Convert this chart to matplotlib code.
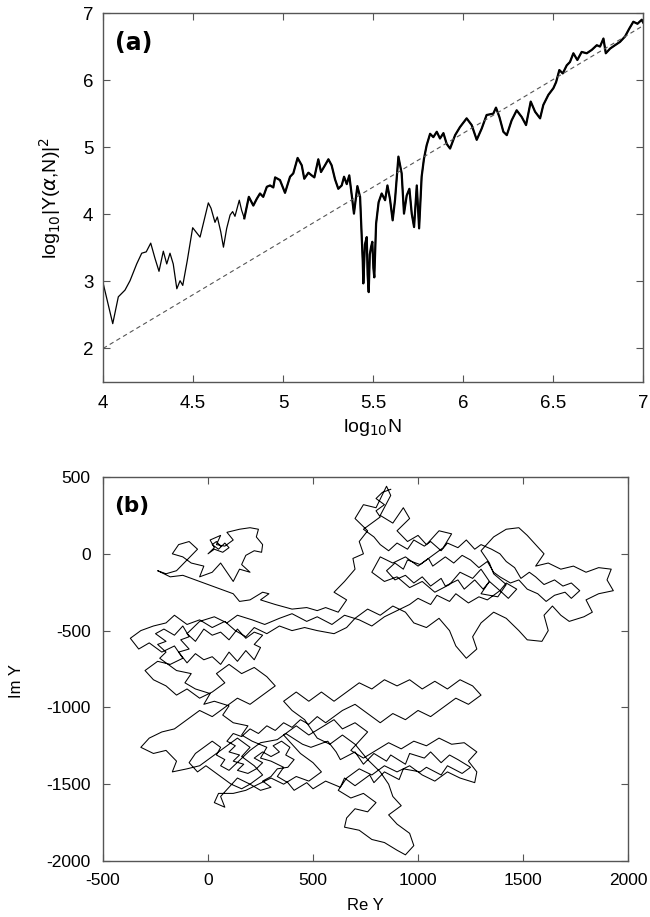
import matplotlib.pyplot as plt

plt.rcParams['font.family'] = ['Liberation Sans', 'DejaVu Sans']
plt.rcParams['axes.unicode_minus'] = False

# (a) log10|Y(alpha,N)|^2 against log10 N
log_n = [4.0, 4.054, 4.085, 4.122, 4.15, 4.187, 4.215, 4.24, 4.265, 4.289, 4.311, 4.335,
         4.354, 4.372, 4.39, 4.41, 4.428, 4.443, 4.468, 4.498, 4.539, 4.585, 4.6, 4.622,
         4.635, 4.654, 4.669, 4.687, 4.706, 4.72, 4.733, 4.757, 4.77, 4.785, 4.81, 4.835,
         4.854, 4.872, 4.89, 4.91, 4.928, 4.946, 4.956, 4.983, 5.011, 5.039, 5.057, 5.081,
         5.104, 5.118, 5.141, 5.159, 5.174, 5.196, 5.211, 5.233, 5.252, 5.27, 5.289, 5.307,
         5.326, 5.339, 5.354, 5.368, 5.382, 5.394, 5.413, 5.428, 5.443, 5.446, 5.455, 5.465,
         5.47, 5.476, 5.482, 5.489, 5.496, 5.502, 5.507, 5.517, 5.531, 5.548, 5.567, 5.58,
         5.594, 5.609, 5.622, 5.641, 5.659, 5.672, 5.687, 5.702, 5.715, 5.728, 5.743, 5.756,
         5.77, 5.783, 5.798, 5.817, 5.835, 5.854, 5.872, 5.891, 5.909, 5.928, 5.956, 5.983,
         6.02, 6.048, 6.076, 6.104, 6.131, 6.168, 6.183, 6.202, 6.224, 6.243, 6.27, 6.298,
         6.326, 6.35, 6.376, 6.4, 6.428, 6.446, 6.474, 6.502, 6.517, 6.535, 6.554, 6.576,
         6.594, 6.613, 6.635, 6.659, 6.687, 6.715, 6.743, 6.761, 6.78, 6.793, 6.817, 6.844,
         6.872, 6.9, 6.924, 6.946, 6.969, 6.993, 7.0]
log_y2 = [2.98, 2.37, 2.77, 2.87, 3.01, 3.26, 3.42, 3.44, 3.57, 3.34, 3.15, 3.45,
          3.26, 3.42, 3.26, 2.89, 3.01, 2.94, 3.31, 3.80, 3.66, 4.17, 4.09, 3.88,
          3.96, 3.74, 3.51, 3.79, 3.99, 4.04, 3.97, 4.21, 4.06, 3.94, 4.26, 4.13,
          4.23, 4.31, 4.26, 4.41, 4.43, 4.40, 4.55, 4.51, 4.32, 4.56, 4.61, 4.84,
          4.73, 4.53, 4.62, 4.58, 4.55, 4.82, 4.63, 4.73, 4.82, 4.73, 4.52, 4.38,
          4.43, 4.56, 4.45, 4.58, 4.28, 4.01, 4.42, 4.26, 3.29, 2.97, 3.55, 3.66,
          3.10, 2.84, 3.40, 3.51, 3.59, 3.20, 3.06, 3.86, 4.18, 4.31, 4.21, 4.43,
          4.23, 3.91, 4.21, 4.86, 4.61, 4.01, 4.28, 4.38, 4.01, 3.81, 4.43, 3.79,
          4.56, 4.83, 5.03, 5.20, 5.15, 5.23, 5.13, 5.21, 5.05, 4.98, 5.18, 5.30,
          5.43, 5.33, 5.11, 5.28, 5.48, 5.50, 5.59, 5.45, 5.23, 5.18, 5.40, 5.55,
          5.45, 5.33, 5.68, 5.53, 5.43, 5.63, 5.78, 5.88, 5.97, 6.15, 6.10, 6.22,
          6.27, 6.40, 6.30, 6.42, 6.40, 6.45, 6.52, 6.50, 6.62, 6.40, 6.47, 6.52,
          6.57, 6.65, 6.77, 6.87, 6.84, 6.90, 6.86]

# dashed reference line
fit_n = [4.0, 7.0]
fit_y = [2.0, 6.81]

# (b) trajectory of Y in the complex plane (hand trace), first long stretch
re_y = [60, 40, 20, 50, 80, 100, 70, 30,
        0, 30, 10, 60, 40, 80, 120, 90, 150, 200, 240, 230, 260, 255, 220, 180, 160, 200, 150,
        120, 90, 60, 20, -40, -20, -80, -120, -170, -140, -90, -50, -100, -150, -200, -240,
        -180, -120, -60, 0, 60, 120, 150, 200, 260, 290, 250, 320, 400, 470, 520, 560,
        620, 660, 600, 650, 700, 690, 740, 720, 760, 700, 740, 800, 850, 870, 820, 880, 930,
        960, 900, 950, 1000, 1040, 1100, 1160, 1120, 1060, 1000, 940, 880, 820, 780, 840, 900,
        960, 1020, 1080, 1150, 1200, 1260, 1300, 1340, 1300, 1380, 1420, 1360, 1340, 1300,
        1360, 1420, 1480, 1520, 1560, 1600, 1560, 1620, 1680, 1740, 1800, 1860, 1920, 1900,
        1930, 1860, 1800, 1830, 1790, 1720, 1680, 1640, 1600, 1620, 1590, 1520, 1480, 1420,
        1360, 1300, 1260, 1280, 1230, 1180, 1150, 1100, 1040, 980, 940, 880, 820, 760, 700,
        660, 600, 520, 460, 400, 340, 280, 220, 180, 130, 80, 20, -40, -100, -160, -200,
        -260, -320, -370, -330, -280, -220, -160, -120, -180, -240, -300, -260, -200, -150,
        -100, -40, 20, 80, 40, 100, 160, 220, 280, 320, 260, 200, 140, 80, 20, -40, -100,
        -160, -220, -280, -320, -260, -200, -150, -170, -100, -40, 20, 80, 140, 200, 160,
        220, 260, 200, 140, 100, 60, 80, 30, 50, 120, 180, 240, 300, 360, 420, 480, 540,
        500, 440, 400, 360, 420, 480, 540, 600, 640, 700, 760, 720, 680, 740, 800, 860, 920,
        980, 1040, 1100, 1160, 1220, 1280, 1240, 1280, 1270, 1200, 1140, 1080, 1020, 960,
        900, 840, 780, 720, 660, 620, 680, 740, 800, 760, 700, 660, 650, 720, 780, 840, 900,
        940, 980, 960, 900, 860, 920, 880, 860, 820, 760, 700, 640, 580, 520, 460, 400, 360,
        420, 480, 540, 600, 660, 720, 780, 840, 900, 960, 1020, 1080, 1140, 1200, 1260, 1300,
        1240, 1180, 1120, 1060, 1000, 940, 880, 820, 760, 700, 640,
        600, 560, 520, 480, 440, 400, 360, 320, 280, 240, 200, 160, 120, 90, 130, 100, 150,
        120, 170, 140, 190, 230, 260, 220, 260, 300, 340, 310, 350, 390, 370, 410, 380, 330,
        300, 260, 300, 250, 200, 160, 110, 70, 30, -10, -50, -90, -60, -20, 20, 60, 40, 80,
        60, 100]
im_y = [50, 80, 60, 30, 70, 40, 10, 30,
        0, 40, 90, 120, 60, 50, 90, 140, 160, 170, 160, 110, 60, 10, 20, -10, -70, -120, -100,
        -180, -120, -60, -120, -150, -80, -60, -20, 0, 60, 80, 30, -40, -110, -130, -110,
        -150, -140, -170, -200, -230, -260, -310, -300, -250, -260, -300, -330, -360, -350,
        -370, -350,
        -380, -300, -250, -180, -100, -30, 0, 80, 150, 230, 320, 300, 440, 380, 250, 200, 300,
        230, 150, 80, 120, 60, 150, 130, 40, -20, -80, -20, -60, -20, -120, -180, -150,
        -220, -180, -250, -200, -120, -160, -100, -180, -260, -280, -200, -130, -60, 20,
        110, 160, 170, 120, 60, 0, -80, -60, -100, -80, -120, -90, -100, -170,
        -240, -260, -300, -380, -410, -440, -400, -340, -400, -500, -570, -560, -500, -420,
        -380, -450, -540, -620, -680, -600, -500, -420, -480, -450, -380, -340, -400, -360, -420,
        -480, -520, -500, -480, -500, -470, -520, -480, -540, -500, -440, -480, -430, -460, -400,
        -450, -470, -500, -550, -620, -580, -640, -600, -680, -720, -700, -760, -820, -860, -920,
        -880, -940, -900, -840, -780, -720, -780, -740, -800, -860, -920, -980, -940, -1000,
        -1060, -1020, -1080, -1140, -1160, -1200, -1260, -1300, -1280, -1350, -1420, -1400,
        -1380, -1320, -1260, -1200, -1260, -1320,
        -1380, -1440, -1500, -1460, -1520, -1580, -1650, -1620, -1560, -1560, -1540, -1500,
        -1460, -1500, -1450, -1480, -1420,
        -1360, -1300, -1240, -1180, -1120, -1180, -1130, -1080, -1140, -1100, -1160, -1220,
        -1280, -1330, -1280, -1230, -1270,
        -1220, -1250, -1200, -1240, -1230, -1290, -1350, -1420, -1490, -1460, -1420, -1480,
        -1440, -1380,
        -1420, -1380, -1440, -1400, -1460, -1540, -1590, -1560, -1620, -1680, -1660, -1720,
        -1780, -1800, -1860, -1880, -1930,
        -1960, -1900, -1820, -1760, -1700, -1640, -1580, -1500, -1420, -1340, -1240, -1180,
        -1240, -1200, -1080, -1020, -960,
        -900, -960, -900, -960, -900, -840, -880, -820, -860, -820, -880, -830, -880, -820,
        -860, -920,
        -980, -940, -1000, -1060, -1020, -1080, -1040, -1100, -1040, -980, -1020,
        -1060, -1100, -1060, -1110, -1080, -1130, -1100, -1150, -1120, -1170, -1140, -1190,
        -1170, -1220, -1250, -1290, -1310, -1350, -1370, -1410, -1430, -1400, -1360, -1330,
        -1290, -1320, -1290, -1250, -1220, -1260, -1310, -1340, -1390, -1400, -1450, -1480,
        -1520, -1540, -1500, -1530, -1500, -1460, -1420, -1380, -1420, -1360, -1300, -1260,
        -1220, -1260, -1310, -1340, -1380, -1410]

# later stretches of the walk, as (Re, Im) pairs
walk_low = [(200, -1280), (250, -1230), (330, -1210), (370, -1170), (450, -1240),
            (490, -1260), (570, -1220), (610, -1290), (630, -1340), (700, -1290),
            (740, -1370), (790, -1300), (850, -1350), (870, -1310), (940, -1370),
            (960, -1300), (1030, -1330), (1060, -1290), (1110, -1360), (1150, -1310),
            (1190, -1340), (1250, -1390), (1210, -1430), (1140, -1380), (1110, -1440),
            (1040, -1390), (1010, -1420), (930, -1400), (910, -1470), (840, -1420),
            (790, -1490), (770, -1440), (700, -1510), (650, -1460), (630, -1520),
            (560, -1480), (500, -1530), (470, -1490), (410, -1540)]
walk_left = [(380, -1490), (330, -1450), (360, -1390), (300, -1350), (250, -1330),
             (280, -1260), (210, -1220), (160, -1180), (190, -1120), (120, -1100),
             (70, -1050), (100, -990), (30, -960), (-20, -980), (10, -910), (-60, -880),
             (-110, -840), (-80, -780), (-150, -760), (-190, -720), (-230, -680),
             (-200, -640), (-240, -590), (-200, -570), (-250, -520), (-210, -490),
             (-160, -530), (-120, -470), (-90, -540), (-130, -560), (-90, -620),
             (-140, -640), (-100, -710), (-60, -650), (-20, -690), (20, -670), (60, -720),
             (100, -640), (140, -700), (180, -630), (220, -690), (250, -610), (220, -590),
             (260, -530), (220, -510), (180, -550), (140, -490), (100, -560), (60, -510),
             (20, -530), (-20, -490), (-60, -570), (-100, -520)]
walk_up = [(-40, -440), (30, -410), (90, -450), (140, -400), (210, -430), (270, -460),
           (340, -420), (400, -390), (470, -440), (520, -410), (590, -460), (650, -400),
           (720, -430), (780, -470), (840, -410), (900, -370), (960, -330), (1000, -290),
           (1060, -330), (1090, -270), (1150, -310), (1180, -260), (1240, -320),
           (1290, -280), (1330, -300), (1390, -240), (1430, -290), (1470, -230),
           (1420, -190), (1390, -240), (1340, -180), (1310, -230), (1270, -170),
           (1220, -230), (1190, -170), (1130, -210), (1110, -160), (1060, -210),
           (1020, -150), (980, -190), (940, -140), (890, -170), (850, -110), (890, -60),
           (930, -100), (950, -40), (1010, -70), (1050, -30), (1070, -80), (1130, -20),
           (1170, -60), (1210, -10), (1250, -40), (1290, -90), (1330, -50), (1360, -120),
           (1390, -150), (1440, -190), (1480, -170), (1520, -230), (1570, -260),
           (1610, -310), (1650, -270), (1700, -250), (1730, -290), (1770, -240),
           (1730, -190), (1690, -210), (1650, -170), (1600, -200), (1560, -150),
           (1530, -120), (1490, -160), (1460, -90), (1420, -50), (1390, 0), (1350, 30),
           (1300, 60), (1270, 30), (1230, 90), (1190, 40), (1140, 70), (1110, 20),
           (1060, 80), (1030, 50), (980, 90), (950, 30), (900, 70), (860, 20), (820, 60),
           (790, 110), (740, 160), (780, 200), (820, 240), (800, 280), (840, 320),
           (800, 360), (830, 400), (870, 420)]

for part in (walk_low, walk_left, walk_up):
    re_y += [p[0] for p in part]
    im_y += [p[1] for p in part]

fig = plt.figure(figsize=(6.5, 9.17), dpi=100)

# ---- panel (a)
ax1 = fig.add_axes([0.1585, 0.5834, 0.8308, 0.4024])
ax1.plot(log_n, log_y2, color='black', lw=0.9)
# the high-N part is very jagged in the original, drawn heavier here
k = log_n.index(4.785)
ax1.plot(log_n[k:], log_y2[k:], color='black', lw=1.6)
ax1.plot(fit_n, fit_y, color='#555555', lw=0.8, linestyle=(0, (4, 3)))
ax1.set_xlim(4, 7)
ax1.set_ylim(1.5, 7)
ax1.set_xticks([4, 4.5, 5, 5.5, 6, 6.5, 7])
ax1.set_xticklabels(['4', '4.5', '5', '5.5', '6', '6.5', '7'])
ax1.set_yticks([2, 3, 4, 5, 6, 7])
ax1.tick_params(direction='in', length=5, top=True, right=True, labelsize=13.5,
                color='#555555')
ax1.tick_params(axis='x', pad=9)
ax1.tick_params(axis='y', pad=7)
ax1.set_xlabel(r'log$_{10}$N', fontsize=14)
ax1.xaxis.set_label_coords(0.498, -0.095)
ax1.set_ylabel(r'log$_{10}$|Y($\alpha$,N)|$^2$', fontsize=14)
ax1.yaxis.set_label_coords(-0.075, 0.5)
ax1.text(0.022, 0.95, '(a)', transform=ax1.transAxes, fontsize=17, fontweight='bold',
         family='DejaVu Sans', ha='left', va='top')

# ---- panel (b)
ax2 = fig.add_axes([0.1585, 0.0611, 0.8077, 0.4187])
ax2.plot(re_y, im_y, color='black', lw=0.75)
ax2.set_xlim(-500, 2000)
ax2.set_ylim(-2000, 500)
ax2.set_xticks([-500, 0, 500, 1000, 1500, 2000])
ax2.set_yticks([-2000, -1500, -1000, -500, 0, 500])
ax2.tick_params(direction='in', length=5, top=True, right=True, labelsize=12.5,
                color='#555555')
ax2.tick_params(axis='x', pad=9)
ax2.tick_params(axis='y', pad=9)
ax2.set_xlabel('Re Y', fontsize=12)
ax2.xaxis.set_label_coords(0.5, -0.096)
ax2.set_ylabel('Im Y', fontsize=12)
ax2.yaxis.set_label_coords(-0.15, 0.47)
ax2.text(0.022, 0.95, '(b)', transform=ax2.transAxes, fontsize=15.5, fontweight='bold',
         family='DejaVu Sans', ha='left', va='top')

for ax in (ax1, ax2):
    for s in ax.spines.values():
        s.set_color('#555555')
        s.set_linewidth(1.0)

fig.savefig('out.png', dpi=100)
